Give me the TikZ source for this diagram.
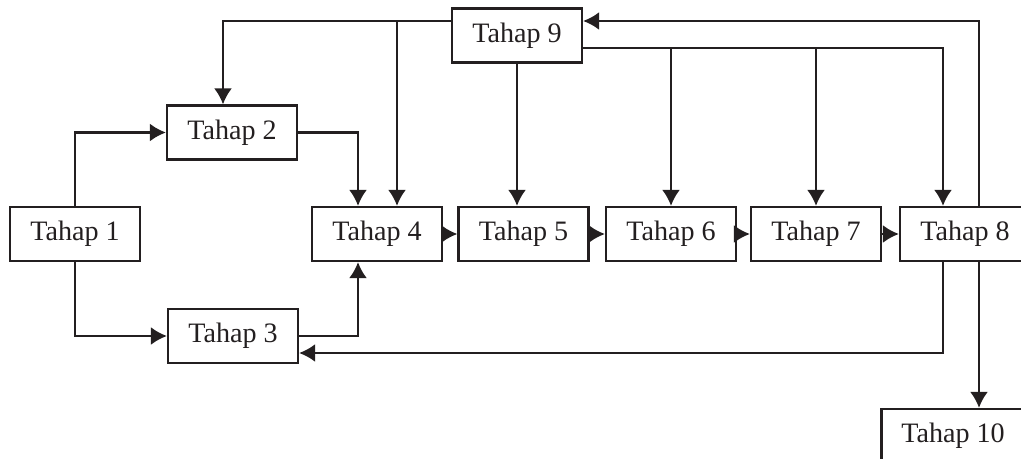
\documentclass[tikz,border=0pt]{standalone}
\usepackage{fontspec}
\setmainfont{Liberation Serif}
\usetikzlibrary{arrows.meta, positioning}
\definecolor{ink}{HTML}{231F20}

\begin{document}
\begin{tikzpicture}[x=0.02cm, y=-0.02cm, line width=1.3pt, draw=ink, text=ink,
    >={Latex[length=0.32cm, width=0.36cm]},
    tahap/.style={draw=ink, minimum width=2.6cm, minimum height=1.08cm, inner sep=0pt,
        font=\fontsize{16}{19}\selectfont}]
            \useasboundingbox (0,0) rectangle (1021,459);

            \node[tahap] (T1) at (75,234) {Tahap 1};
            \node[tahap] (T2) at (232,132.5) {Tahap 2};
            \node[tahap] (T3) at (233,336) {Tahap 3};
            \node[tahap] (T4) at (377,234) {Tahap 4};
            \node[tahap] (T5) at (523.5,234) {Tahap 5};
            \node[tahap] (T6) at (671,234) {Tahap 6};
            \node[tahap] (T7) at (816,234) {Tahap 7};
            \node[tahap] (T8) at (965,234) {Tahap 8};
            \node[tahap] (T9) at (517,35.5) {Tahap 9};
            \node[tahap, minimum width=2.86cm] (T10) at (953,436) {Tahap 10};

            % bend points
            \coordinate (a9) at (223,21);
            \coordinate (b9) at (397,21);
            \coordinate (c9) at (943,48);
            \coordinate (r8) at (979,21);
            \coordinate (s8) at (943,353);
            \coordinate (m4) at (358,131);

            % from Tahap 9
            \draw[->] (a9 -| T9.west) -- (a9) -- (a9 |- T2.north);
            \draw[->] (b9) -- (b9 |- T4.north);
            \draw[->] (T9.south) -- (T9.south |- T5.north);
            \draw[->] (c9 -| T9.east) -- (c9) -- (c9 |- T8.north);
            \draw[->] (c9 -| T6.north) -- (T6.north);
            \draw[->] (c9 -| T7.north) -- (T7.north);

            % back to Tahap 9
            \draw[->] (r8 |- T8.north) -- (r8) -- (r8 -| T9.east);

            \draw[->] (T1.north) |- (T2.west);
            \draw[->] (T1.south) |- (T3.west);
            \draw[->] (T2.east) -| (m4 |- T4.north);
            \draw[->] (T3.east) -| (m4 |- T4.south);

            \draw[->] (T4) -- (T5);
            \draw[->] (T5) -- (T6);
            \draw[->] (T6) -- (T7);
            \draw[->] (T7) -- (T8);

            \draw[->] (s8 |- T8.south) -- (s8) -- (s8 -| T3.east);
            \draw[->] (r8 |- T8.south) -- (r8 |- T10.north);
        \end{tikzpicture}
\end{document}
